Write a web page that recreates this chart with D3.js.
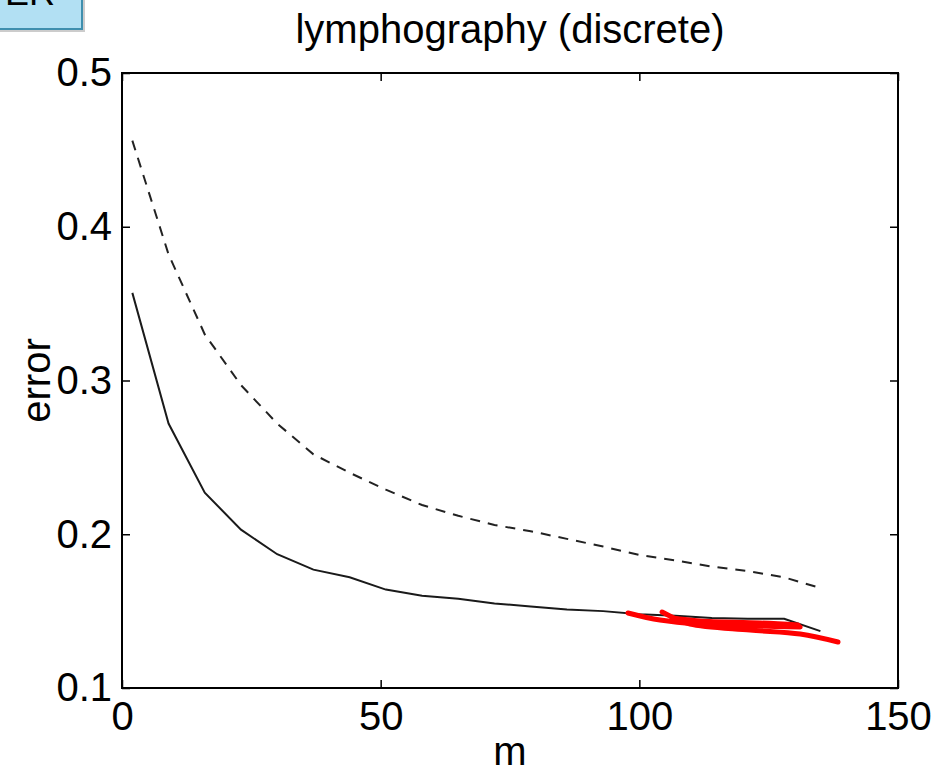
<!DOCTYPE html>
<html>
<head>
<meta charset="utf-8">
<script src="https://cdnjs.cloudflare.com/ajax/libs/d3/7.8.5/d3.min.js"></script>
<style>
  body { margin: 0; background: #fff; }
  text { font-family: "Liberation Sans", Arial, Helvetica, sans-serif; fill: #000; }
</style>
</head>
<body>
<div id="chart"></div>
<script>
// m values (sample sizes)
var m_values = [2, 9, 16, 23, 30, 37, 44, 51, 58, 65, 72, 79, 86, 93, 100, 107, 114, 121, 128, 135];
// solid curve
var err_solid = [0.357, 0.272, 0.227, 0.203, 0.187, 0.177, 0.172, 0.164, 0.160, 0.158, 0.155, 0.153, 0.151, 0.150,
                 0.148, 0.147, 0.1455, 0.145, 0.145, 0.137];
// dashed curve
var err_dashed = [0.456, 0.382, 0.330, 0.297, 0.272, 0.252, 0.240, 0.229, 0.219, 0.212, 0.206, 0.202, 0.197, 0.192,
                  0.1865, 0.183, 0.179, 0.176, 0.172, 0.165];
// red hand drawn marks, [m, error]
var red_marks = [
  [[97.8, 0.1488], [104.0, 0.1442], [111.7, 0.1416], [123.3, 0.1403], [131.1, 0.1397]],
  [[104.4, 0.1494], [106.3, 0.1462], [109.8, 0.1416], [121.4, 0.1377], [131.1, 0.1351], [138.4, 0.1299]],
  [[106.3, 0.1455], [111.7, 0.1436], [123.3, 0.1423], [130.7, 0.1410]]
];
var x_ticks = [0, 50, 100, 150];
var y_ticks = [0.1, 0.2, 0.3, 0.4, 0.5];

const width = 951
const height = 775
const m_left = 122, m_right = 898, m_top = 73, m_bottom = 688;

var svg = d3.select("#chart").append("svg")
    .attr("width", width)
    .attr("height", height)

//比例尺
var x = d3.scaleLinear().domain([0, 150]).range([m_left, m_right])
var y = d3.scaleLinear().domain([0.1, 0.5]).range([m_bottom, m_top])

// ER box in the corner
svg.append("rect")
    .attr("x", -6).attr("y", -6).attr("width", 91).attr("height", 38)
    .attr("fill", "#999").attr("opacity", 0.5)
svg.append("rect")
    .attr("x", -6).attr("y", -6).attr("width", 88).attr("height", 35)
    .attr("fill", "#b2e0f3").attr("stroke", "#3f8fae").attr("stroke-width", 2)
svg.append("text")
    .attr("x", 5).attr("y", 5)
    .style("font-size", "36px")
    .text("ER")

// title
svg.append("text")
    .attr("x", (m_left + m_right) / 2).attr("y", 43)
    .attr("text-anchor", "middle")
    .style("font-size", "40px")
    .text("lymphography (discrete)")

// frame
svg.append("rect")
    .attr("x", m_left).attr("y", m_top)
    .attr("width", m_right - m_left).attr("height", m_bottom - m_top)
    .attr("fill", "none").attr("stroke", "#000").attr("stroke-width", 2)

// ticks
var tick_len = 8
var xAxis = d3.axisBottom(x).tickValues(x_ticks).tickSize(-tick_len).tickPadding(14).tickFormat(d3.format("d"))
var xAxisTop = d3.axisTop(x).tickValues(x_ticks).tickSize(-tick_len).tickFormat("")
var yAxis = d3.axisLeft(y).tickValues(y_ticks).tickSize(-tick_len).tickPadding(10).tickFormat(d3.format(".1f"))
var yAxisRight = d3.axisRight(y).tickValues(y_ticks).tickSize(-tick_len).tickFormat("")

function styleAxis(g) {
    g.select(".domain").remove()
    g.selectAll(".tick line").attr("stroke", "#000").attr("stroke-width", 1.5)
    g.selectAll(".tick text").style("font-size", "40px").style("font-family", "'Liberation Sans', Arial, sans-serif")
}
svg.append("g").attr("transform", `translate(0,${m_bottom})`).call(xAxis).call(styleAxis)
svg.append("g").attr("transform", `translate(0,${m_top})`).call(xAxisTop).call(styleAxis)
svg.append("g").attr("transform", `translate(${m_left},0)`).call(yAxis).call(styleAxis)
svg.append("g").attr("transform", `translate(${m_right},0)`).call(yAxisRight).call(styleAxis)

// axis labels
svg.append("text")
    .attr("x", (m_left + m_right) / 2).attr("y", 765)
    .attr("text-anchor", "middle")
    .style("font-size", "40px")
    .text("m")
svg.append("text")
    .attr("transform", `translate(50,${(m_top + m_bottom) / 2}) rotate(-90)`)
    .attr("text-anchor", "middle")
    .style("font-size", "40px")
    .text("error")

// curves
var line = d3.line().x(d => x(d[0])).y(d => y(d[1]))
var solid = m_values.map((m, i) => [m, err_solid[i]])
var dashed = m_values.map((m, i) => [m, err_dashed[i]])

svg.append("path").datum(dashed)
    .attr("d", line)
    .attr("fill", "none").attr("stroke", "#222").attr("stroke-width", 2)
    .attr("stroke-dasharray", "10,8")
svg.append("path").datum(solid)
    .attr("d", line)
    .attr("fill", "none").attr("stroke", "#1a1a1a").attr("stroke-width", 2)

// red scribble
var curve_line = d3.line().x(d => x(d[0])).y(d => y(d[1])).curve(d3.curveCatmullRom)
svg.selectAll(".red").data(red_marks).enter()
    .append("path")
    .attr("class", "red")
    .attr("d", curve_line)
    .attr("fill", "none").attr("stroke", "#ff0000").attr("stroke-width", 5)
    .attr("stroke-linecap", "round").attr("stroke-linejoin", "round")
</script>
</body>
</html>
